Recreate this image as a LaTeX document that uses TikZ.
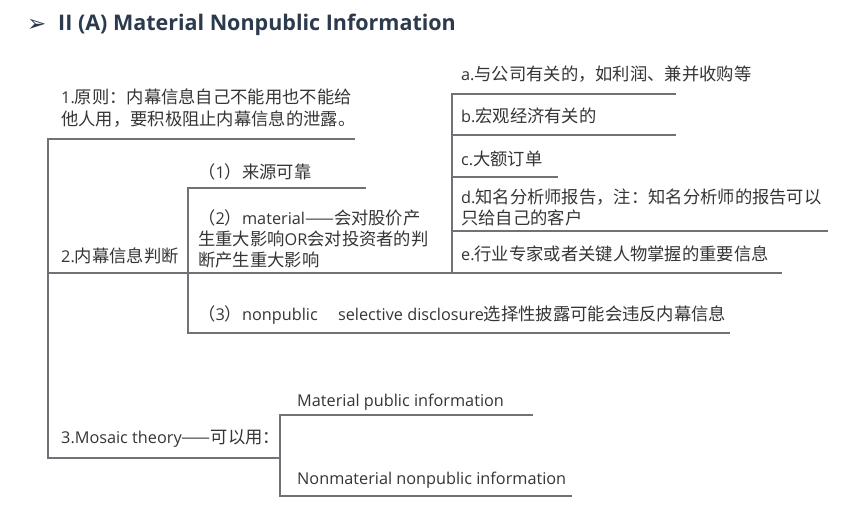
\documentclass[tikz,border=0pt]{standalone}
\usepackage{fontspec}
\setmainfont{Noto Sans CJK SC}
\newfontfamily\latn[Scale=0.94]{Open Sans}
\newfontfamily\titlefont{Open Sans}
\newfontfamily\symb{DejaVu Sans}
\newcommand\enx[1]{{\latn #1}}
\definecolor{txt}{HTML}{353535}
\definecolor{ln}{HTML}{6F7377}
\definecolor{ttl}{HTML}{2C3A4D}
\begin{document}
\begin{tikzpicture}[x=1pt,y=-1pt,
  % multi-line labels are anchored at the baseline of their last line
  lbl/.style={anchor=base west, inner sep=0pt, text=txt, align=left,
              font=\fontsize{17.3}{21}\selectfont},
  branch/.style={draw=ln, line width=1.3pt}]
\useasboundingbox[fill=white] (0,0) rectangle (856,516);

% heading
\node[anchor=base west, inner sep=0pt, text=ttl, font=\symb\fontsize{23}{23}\selectfont] (bullet) at (27,32) {➢};
\node[anchor=base west, inner sep=0pt, text=ttl, font=\titlefont\bfseries\fontsize{21.5}{21.5}\selectfont] (title) at (58,31) {II (A) Material Nonpublic Information};

% level 1 topics
\node[lbl] (n1) at (61,125) {\enx{1.}原则：内幕信息自己不能用也不能给\\他人用，要积极阻止内幕信息的泄露。};
\node[lbl] (n2) at (61,262) {\enx{2.}内幕信息判断};
\node[lbl] (n3) at (61,443) {\enx{3.Mosaic theory}——可以用：};

% level 2 under topic 2
\node[lbl] (s1) at (198,178) {（\enx{1}）来源可靠};
\node[lbl] (s2) at (198,266) {（\enx{2}）\enx{material}——会对股价产\\生重大影响\enx{OR}会对投资者的判\\断产生重大影响};
\node[lbl] (s3) at (198,320) {（\enx{3}）\enx{nonpublic\hspace{1.25em}selective disclosure}选择性披露可能会违反内幕信息};

% level 3 under (2)
\node[lbl] (a) at (461,81) {\enx{a.}与公司有关的，如利润、兼并收购等};
\node[lbl] (b) at (461,123) {\enx{b.}宏观经济有关的};
\node[lbl] (c) at (461,165) {\enx{c.}大额订单};
\node[lbl] (d) at (461,224) {\enx{d.}知名分析师报告，注：知名分析师的报告可以\\只给自己的客户};
\node[lbl] (e) at (461,260) {\enx{e.}行业专家或者关键人物掌握的重要信息};

% level 2 under topic 3
\node[lbl] (m1) at (297,406) {\enx{Material public information}};
\node[lbl] (m2) at (297,484) {\enx{Nonmaterial nonpublic information}};

% underline end points
\coordinate (n1L) at (48,139);  \coordinate (n1R) at (355,139);
\coordinate (n2L) at (48,273);  \coordinate (n2R) at (188,273);
\coordinate (n3L) at (48,458);  \coordinate (n3R) at (280,458);
\coordinate (s1L) at (188,188); \coordinate (s1R) at (366,188);
\coordinate (s2R) at (452,273);
\coordinate (s3L) at (188,333); \coordinate (s3R) at (730,333);
\coordinate (aL) at (452,94);   \coordinate (aR) at (676,94);
\coordinate (bL) at (452,135);  \coordinate (bR) at (676,135);
\coordinate (cL) at (452,177);  \coordinate (cR) at (558,177);
\coordinate (dL) at (452,231);  \coordinate (dR) at (828,231);
\coordinate (eR) at (782,273);
\coordinate (m1L) at (280,415); \coordinate (m1R) at (533,415);
\coordinate (m2L) at (280,496); \coordinate (m2R) at (572,496);

% trunk and underlines
\draw[branch] (n1R) -- (n1L) -- (n3L) -- (n3R);
\draw[branch] (n2L) -- (n2R);
\draw[branch] (s1R) -- (s1L) -- (s3L) -- (s3R);
\draw[branch] (n2R) -- (s2R) -- (eR);
\draw[branch] (aR) -- (aL) -- (s2R);
\draw[branch] (bL) -- (bR);
\draw[branch] (cL) -- (cR);
\draw[branch] (dL) -- (dR);
\draw[branch] (m1R) -- (m1L) -- (m2L) -- (m2R);
\end{tikzpicture}
\end{document}
